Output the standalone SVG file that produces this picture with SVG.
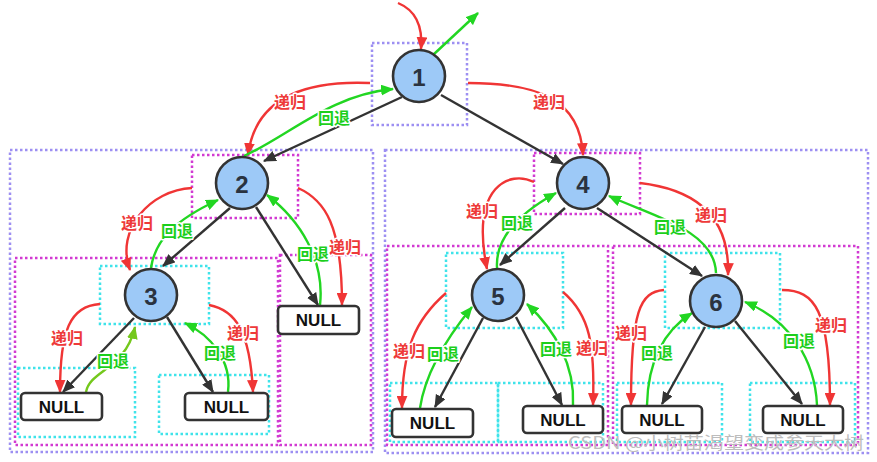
<svg xmlns="http://www.w3.org/2000/svg" width="877" height="462" viewBox="0 0 877 462">
<style>
.bg{fill:#fff}
.fp{fill:none;stroke:#9d8ff2;stroke-width:2.5;stroke-dasharray:2.5 2.5}
.fm{fill:none;stroke:#d23ad2;stroke-width:2.5;stroke-dasharray:2.5 2.5}
.fc{fill:none;stroke:#3fe3ea;stroke-width:2.5;stroke-dasharray:2.5 2.5}
.node circle{fill:#9dc9f7;stroke:#333;stroke-width:2.6}
.node text{font-family:"Liberation Sans",Arial,sans-serif;font-weight:bold;font-size:24px;fill:#2a3340;text-anchor:middle;dominant-baseline:central}
.nul rect{fill:#fff;stroke:#333;stroke-width:2.6}
.nul text{font-family:"Liberation Sans",Arial,sans-serif;font-weight:bold;font-size:17px;fill:#111;text-anchor:middle;dominant-baseline:central}
.k{fill:none;stroke:#333;stroke-width:2.4;marker-end:url(#ak)}
.r{fill:none;stroke:#f03535;stroke-width:2.4;marker-end:url(#ar)}
.g{fill:none;stroke:#22d622;stroke-width:2.4;marker-end:url(#ag)}
.o{fill:none;stroke:#74c81c;stroke-width:2.4;marker-end:url(#ao)}
.lr,.lg{font-family:"Noto Sans CJK SC",sans-serif;font-size:16px;font-weight:bold;text-anchor:middle;dominant-baseline:central;paint-order:stroke;stroke:#fff;stroke-width:3px;stroke-linejoin:round}
.lr{fill:#ee3a3a}
.lg{fill:#1ccf1c}
.wm{font-family:"Noto Sans CJK SC",sans-serif;font-size:17px;fill:#bdbdbd}
</style>
<defs>
<marker id="ak" markerUnits="userSpaceOnUse" viewBox="0 0 12 10" refX="11" refY="5" markerWidth="13" markerHeight="11" orient="auto"><path d="M0,0 L12,5 L0,10 z" fill="#333"/></marker>
<marker id="ar" markerUnits="userSpaceOnUse" viewBox="0 0 12 10" refX="11" refY="5" markerWidth="13" markerHeight="11" orient="auto"><path d="M0,0 L12,5 L0,10 z" fill="#f03535"/></marker>
<marker id="ag" markerUnits="userSpaceOnUse" viewBox="0 0 12 10" refX="11" refY="5" markerWidth="13" markerHeight="11" orient="auto"><path d="M0,0 L12,5 L0,10 z" fill="#22d622"/></marker>
<marker id="ao" markerUnits="userSpaceOnUse" viewBox="0 0 12 10" refX="11" refY="5" markerWidth="13" markerHeight="11" orient="auto"><path d="M0,0 L12,5 L0,10 z" fill="#74c81c"/></marker>
</defs>
<rect class="bg" width="877" height="462"/>
<g id="frames">
<rect class="fp" x="10" y="150" width="363" height="302"/>
<rect class="fp" x="385" y="150" width="483" height="303"/>
<rect class="fp" x="372" y="43" width="95" height="82"/>
<rect class="fm" x="192" y="155" width="106" height="63"/>
<rect class="fm" x="15" y="258" width="263" height="187"/>
<rect class="fm" x="280" y="255" width="91" height="190"/>
<rect class="fm" x="534" y="153" width="106" height="61"/>
<rect class="fm" x="387" y="246" width="221" height="199"/>
<rect class="fm" x="613" y="246" width="245" height="199"/>
<rect class="fc" x="100" y="266" width="109" height="58"/>
<rect class="fc" x="18" y="368" width="117" height="69"/>
<rect class="fc" x="159" y="375" width="110" height="59"/>
<rect class="fc" x="446" y="253" width="117" height="75"/>
<rect class="fc" x="665" y="253" width="115" height="75"/>
<rect class="fc" x="390" y="383" width="108" height="59"/>
<rect class="fc" x="498" y="383" width="105" height="59"/>
<rect class="fc" x="617" y="383" width="105" height="59"/>
<rect class="fc" x="750" y="383" width="105" height="59"/>
</g>
<g id="connectors">
<path class="r" d="M398 3 C415 10 423 25 421 49"/>
<path class="g" d="M433 55 L478 13"/>
<path class="r" d="M370 83 C300 80 255 100 248 155"/>
<path class="g" d="M244 156 C290 135 330 95 393 89"/>
<path class="k" d="M402 97 L264 161"/>
<path class="k" d="M441 95 L563 164"/>
<path class="r" d="M468 83 C540 83 580 100 583 155"/>

<path class="r" d="M192 188 C150 190 115 230 130 270"/>
<path class="g" d="M151 268 C155 240 175 220 218 200"/>
<path class="k" d="M230 208 L163 266"/>
<path class="k" d="M256 207 L318 305"/>
<path class="g" d="M320 305 C325 260 300 220 267 195"/>
<path class="r" d="M298 188 C325 200 342 225 342 305"/>

<path class="r" d="M100 304 C70 306 60 330 60 392"/>
<path class="o" d="M86 392 C90 370 125 370 135 327"/>
<path class="k" d="M134 318 L63 392"/>
<path class="k" d="M167 317 L213 392"/>
<path class="g" d="M228 392 C232 360 210 335 185 323"/>
<path class="r" d="M209 305 C235 310 250 330 253 392"/>

<path class="r" d="M534 182 C510 170 470 185 487 269"/>
<path class="g" d="M497 268 C495 235 525 210 556 193"/>
<path class="k" d="M565 208 L500 265"/>
<path class="k" d="M597 208 L702 276"/>
<path class="g" d="M716 273 C715 230 650 215 609 196"/>
<path class="r" d="M640 183 C700 190 730 220 728 275"/>

<path class="r" d="M446 293 C415 320 402 350 402 408"/>
<path class="g" d="M420 408 C425 375 445 340 472 307"/>
<path class="k" d="M483 318 L435 407"/>
<path class="k" d="M516 317 L562 405"/>
<path class="g" d="M573 405 C575 365 555 330 527 304"/>
<path class="r" d="M563 292 C590 315 595 345 593 405"/>

<path class="r" d="M664 290 C640 292 631 310 631 405"/>
<path class="g" d="M647 405 C648 360 665 330 692 313"/>
<path class="k" d="M705 327 L662 404"/>
<path class="k" d="M735 321 L802 404"/>
<path class="g" d="M817 405 C815 360 790 320 745 302"/>
<path class="r" d="M782 290 C815 290 830 310 830 405"/>
</g>
<g id="labels">
<text class="lr" x="290" y="101">递归</text>
<text class="lg" x="334" y="117">回退</text>
<text class="lr" x="549" y="101">递归</text>
<text class="lr" x="137" y="222">递归</text>
<text class="lg" x="177" y="230">回退</text>
<text class="lr" x="345" y="246">递归</text>
<text class="lg" x="313" y="253">回退</text>
<text class="lr" x="67" y="337">递归</text>
<text class="lg" x="113" y="360">回退</text>
<text class="lr" x="243" y="332">递归</text>
<text class="lg" x="220" y="352">回退</text>
<text class="lr" x="482" y="210">递归</text>
<text class="lg" x="517" y="222">回退</text>
<text class="lr" x="711" y="214">递归</text>
<text class="lg" x="670" y="226">回退</text>
<text class="lr" x="409" y="350">递归</text>
<text class="lg" x="443" y="353">回退</text>
<text class="lg" x="556" y="348">回退</text>
<text class="lr" x="592" y="347">递归</text>
<text class="lr" x="631" y="332">递归</text>
<text class="lg" x="657" y="352">回退</text>
<text class="lr" x="831" y="324">递归</text>
<text class="lg" x="799" y="340">回退</text>
</g>
<g id="n1" class="node"><circle cx="419" cy="76" r="26"/><text x="419" y="77">1</text></g>
<g id="n2" class="node"><circle cx="242" cy="183" r="26"/><text x="242" y="184">2</text></g>
<g id="n3" class="node"><circle cx="151" cy="295" r="26"/><text x="151" y="296">3</text></g>
<g id="n4" class="node"><circle cx="583" cy="183" r="26"/><text x="583" y="184">4</text></g>
<g id="n5" class="node"><circle cx="498" cy="295" r="26"/><text x="498" y="296">5</text></g>
<g id="n6" class="node"><circle cx="716" cy="301" r="26"/><text x="716" y="302">6</text></g>
<g id="null3l" class="nul"><rect x="21" y="393" width="81" height="27" rx="4"/><text x="61.5" y="407">NULL</text></g>
<g id="null3r" class="nul"><rect x="185" y="393" width="83" height="27" rx="4"/><text x="226.5" y="407">NULL</text></g>
<g id="null2r" class="nul"><rect x="278" y="306" width="81" height="28" rx="4"/><text x="318.5" y="320.5">NULL</text></g>
<g id="null5l" class="nul"><rect x="392" y="409" width="81" height="28" rx="4"/><text x="432.5" y="423.5">NULL</text></g>
<g id="null5r" class="nul"><rect x="523" y="406" width="80" height="27" rx="4"/><text x="563" y="420">NULL</text></g>
<g id="null6l" class="nul"><rect x="622" y="406" width="80" height="27" rx="4"/><text x="662" y="420">NULL</text></g>
<g id="null6r" class="nul"><rect x="763" y="406" width="80" height="27" rx="4"/><text x="803" y="420">NULL</text></g>
<text class="wm" x="568" y="449" textLength="296" lengthAdjust="spacingAndGlyphs">CSDN @小树苗渴望变成参天大树</text>
</svg>
